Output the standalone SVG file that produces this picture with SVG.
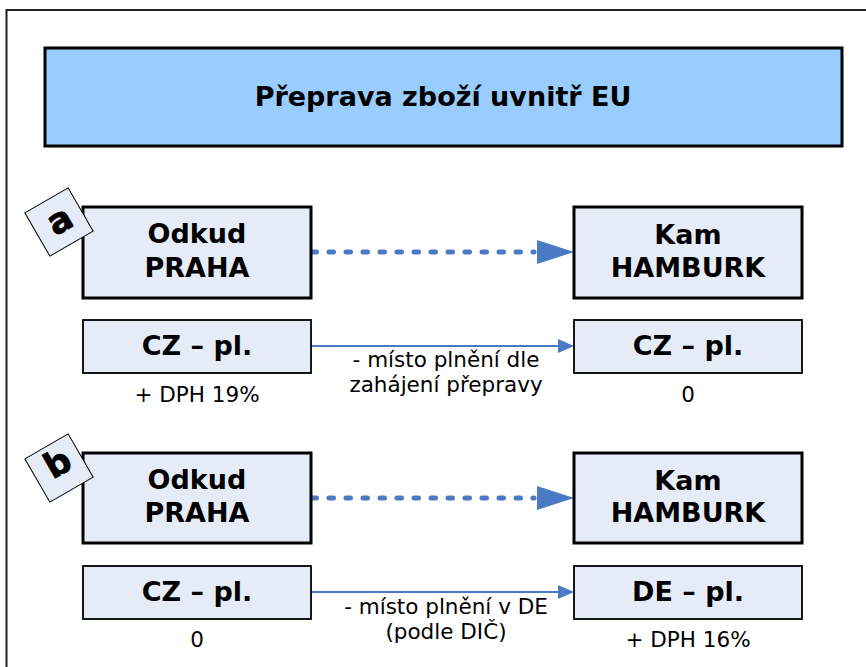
<svg xmlns="http://www.w3.org/2000/svg" width="866" height="667" viewBox="0 0 866 667">
  <style>
    .big { fill: #E6ECF7; stroke: #000; stroke-width: 3; }
    .small { fill: #E6ECF7; stroke: #000; stroke-width: 1.8; }
    .tag { fill: #E6ECF7; stroke: #000; stroke-width: 1; }
    .bt { font-family: "DejaVu Sans", Verdana, sans-serif; font-weight: bold; font-size: 27px; fill: #000; text-anchor: middle; }
    .lt { font-family: "DejaVu Sans", Verdana, sans-serif; font-weight: bold; font-size: 35px; fill: #000; stroke: #000; stroke-width: 0.8; text-anchor: middle; }
    .rt { font-family: "DejaVu Sans", Verdana, sans-serif; font-size: 21.5px; fill: #000; text-anchor: middle; }
    .dash { stroke: #4A7AC4; stroke-width: 5; stroke-linecap: round; stroke-dasharray: 4.5 12.5; fill: none; }
    .thin { stroke: #4A7AC4; stroke-width: 2; fill: none; }
    .head { fill: #4A7AC4; }
  </style>

  <rect width="866" height="667" fill="#fff"/>
  <!-- page frame -->
  <rect x="6.5" y="10" width="880" height="700" fill="none" stroke="#222" stroke-width="2"/>

  <!-- title -->
  <g id="title">
    <rect x="45" y="48" width="797" height="98" fill="#99CCFF" stroke="#000" stroke-width="3"/>
    <text x="443" y="106" class="bt" font-size="26">Přeprava zboží uvnitř EU</text>
  </g>

  <!-- connectors -->
  <g id="connectors">
    <line class="dash" x1="312" y1="252" x2="534" y2="252"/>
    <polygon class="head" points="537,240 574,252 537,264"/>
    <line class="thin" x1="311" y1="346" x2="560" y2="346"/>
    <polygon class="head" points="558,339 574,346 558,353"/>

    <line class="dash" x1="312" y1="498" x2="534" y2="498"/>
    <polygon class="head" points="537,486 574,498 537,510"/>
    <line class="thin" x1="311" y1="592" x2="560" y2="592"/>
    <polygon class="head" points="558,585 574,592 558,599"/>
  </g>

  <!-- case a -->
  <g id="a-from">
    <rect class="big" x="83" y="207" width="228" height="91"/>
    <text class="bt" x="197" y="243">Odkud</text>
    <text class="bt" x="197" y="277">PRAHA</text>
  </g>
  <g id="a-tag">
    <rect class="tag" x="34" y="197" width="50" height="50" transform="rotate(-30 59 222)"/>
    <text class="lt" x="60" y="232" transform="rotate(-30 60 221)">a</text>
  </g>
  <g id="a-to">
    <rect class="big" x="574" y="207" width="228" height="91"/>
    <text class="bt" x="688" y="244">Kam</text>
    <text class="bt" x="688" y="277">HAMBURK</text>
  </g>
  <g id="a-from-place">
    <rect class="small" x="83" y="320" width="228" height="53"/>
    <text class="bt" x="197" y="355">CZ – pl.</text>
    <text class="rt" x="197" y="402">+ DPH 19%</text>
  </g>
  <g id="a-to-place">
    <rect class="small" x="574" y="320" width="228" height="53"/>
    <text class="bt" x="688" y="355">CZ – pl.</text>
    <text class="rt" x="688" y="402">0</text>
  </g>
  <g id="a-note">
    <text class="rt" x="446" y="367">- místo plnění dle</text>
    <text class="rt" x="446" y="392">zahájení přepravy</text>
  </g>

  <!-- case b -->
  <g id="b-from">
    <rect class="big" x="83" y="453" width="228" height="90"/>
    <text class="bt" x="197" y="489">Odkud</text>
    <text class="bt" x="197" y="522">PRAHA</text>
  </g>
  <g id="b-tag">
    <rect class="tag" x="34" y="443" width="50" height="50" transform="rotate(-30 59 468)"/>
    <text class="lt" x="58" y="475" transform="rotate(-30 58 464)">b</text>
  </g>
  <g id="b-to">
    <rect class="big" x="574" y="453" width="228" height="90"/>
    <text class="bt" x="688" y="490">Kam</text>
    <text class="bt" x="688" y="522">HAMBURK</text>
  </g>
  <g id="b-from-place">
    <rect class="small" x="83" y="566" width="228" height="53"/>
    <text class="bt" x="197" y="601">CZ – pl.</text>
    <text class="rt" x="197" y="647">0</text>
  </g>
  <g id="b-to-place">
    <rect class="small" x="574" y="566" width="228" height="53"/>
    <text class="bt" x="688" y="601">DE – pl.</text>
    <text class="rt" x="688" y="647">+ DPH 16%</text>
  </g>
  <g id="b-note">
    <text class="rt" x="446" y="614">- místo plnění v DE</text>
    <text class="rt" x="446" y="639">(podle DIČ)</text>
  </g>
</svg>
